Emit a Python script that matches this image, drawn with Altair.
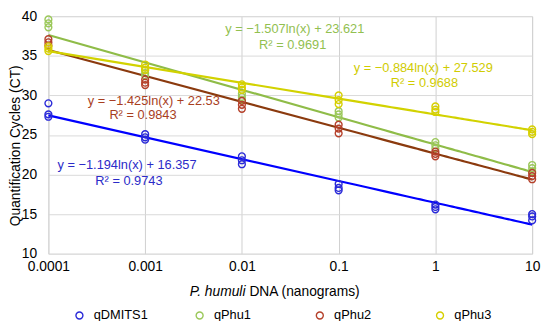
import altair as alt
import pandas as pd

# ---- data ----
doses = [0.0001, 0.001, 0.01, 0.1, 1, 10]
series_names = ["qDMITS1", "qPhu1", "qPhu2", "qPhu3"]

qDMITS1 = [[29.0, 27.6, 27.3], [25.1, 24.7, 24.4], [22.3, 21.8, 21.3],
           [18.8, 18.3, 18.0], [16.2, 15.9, 15.6], [15.0, 14.7, 14.2]]
qPhu1 = [[39.6, 39.1, 38.6], [33.2, 32.8, 32.5], [30.2, 29.8, 29.4],
         [28.0, 27.6, 27.2], [24.1, 23.7, 23.3], [21.2, 20.8, 20.4]]
qPhu2 = [[37.1, 36.7, 36.3], [32.0, 31.6, 31.3], [29.3, 28.8, 28.3],
         [26.3, 25.8, 25.2], [22.9, 22.6, 22.3], [20.2, 19.8, 19.4]]
qPhu3 = [[36.2, 35.9, 35.6], [33.9, 33.5, 33.2], [31.4, 31.0, 30.7],
         [30.0, 29.4, 28.9], [28.6, 28.2, 27.9], [25.7, 25.4, 25.1]]

eq_lines = ["y = −1.194ln(x) + 16.357", "R² = 0.9743",
            "y = −1.507ln(x) + 23.621", "R² = 0.9691",
            "y = −1.425ln(x) + 22.53", "R² = 0.9843",
            "y = −0.884ln(x) + 27.529", "R² = 0.9688"]
eq_series = ["qDMITS1", "qDMITS1", "qPhu1", "qPhu1",
             "qPhu2", "qPhu2", "qPhu3", "qPhu3"]

x_ticks = [0.0001, 0.001, 0.01, 0.1, 1, 10]
y_ticks = [10, 15, 20, 25, 30, 35, 40]

# annotation anchor positions (data units)
eq_x = [0.00065, 0.00068, 0.0352, 0.0335, 0.00123, 0.00095, 0.75, 0.77]
eq_y = [21.2, 19.2, 38.4, 36.4, 29.3, 27.5, 33.4, 31.5]

point_colors = ["#2a2ad8", "#9bc85a", "#b5402a", "#d6cf00"]
line_colors = ["#0000ff", "#8fbc48", "#8b3a0e", "#d2d200"]
text_colors = ["#2b2bc8", "#92c050", "#a83e1e", "#d0cc00"]

all_data = {"qDMITS1": qDMITS1, "qPhu1": qPhu1, "qPhu2": qPhu2, "qPhu3": qPhu3}
rows = []
for name in series_names:
    for d, reps in zip(doses, all_data[name]):
        for v in reps:
            rows.append({"x": d, "ct": v, "series": name})
df = pd.DataFrame(rows)

ann = pd.DataFrame({"text": eq_lines, "series": eq_series, "x": eq_x, "y": eq_y})

FONT = "Liberation Sans"

xscale = alt.Scale(type="log", domain=[0.0001, 10], nice=False)
yscale = alt.Scale(domain=[10, 40], nice=False, zero=False)

x_axis = alt.Axis(values=x_ticks, format="~g", title=None, grid=True,
                  gridColor="#cfcfcf", domain=False, ticks=False,
                  labelFont=FONT, labelFontSize=14, labelColor="#000000",
                  labelPadding=6, labelFlush=False, labelOverlap=False)
y_axis = alt.Axis(values=y_ticks, title="Quantification Cycles (CT)", grid=True,
                  gridColor="#d9d9d9", domain=False, ticks=False,
                  labelFont=FONT, labelFontSize=14, labelColor="#000000",
                  labelPadding=12, titleFont=FONT, titleFontSize=14,
                  titleFontWeight="normal", titleColor="#000000",
                  titleX=-33.5, titleY=131, titleAngle=-90, titleAlign="center",
                  titleBaseline="middle")

base = alt.Chart(df)

points = base.mark_point(filled=False, size=48, strokeWidth=1.4, opacity=1).encode(
    x=alt.X("x:Q", scale=xscale, axis=x_axis),
    y=alt.Y("ct:Q", scale=yscale, axis=y_axis),
    color=alt.Color("series:N", sort=series_names,
                    scale=alt.Scale(domain=series_names, range=point_colors),
                    legend=alt.Legend(title=None, orient="none", legendX=25, legendY=297,
                                      direction="horizontal", columns=4, gridAlign="all",
                                      columnPadding=46, symbolType="circle",
                                      symbolSize=50, symbolStrokeWidth=1.4,
                                      labelFont=FONT, labelFontSize=13,
                                      labelColor="#000000", labelOffset=8)),
)

lines = base.transform_regression(
    "x", "ct", method="log", groupby=["series"], extent=[0.0001, 10]
).mark_line(strokeWidth=2.2).encode(
    x=alt.X("x:Q", scale=xscale),
    y=alt.Y("ct:Q", scale=yscale),
    color=alt.Color("series:N", scale=alt.Scale(domain=series_names, range=line_colors),
                    legend=None),
)

labels = alt.Chart(ann).mark_text(font=FONT, fontSize=13, align="center",
                                  baseline="middle").encode(
    x=alt.X("x:Q", scale=xscale),
    y=alt.Y("y:Q", scale=yscale),
    text="text:N",
    color=alt.Color("series:N", scale=alt.Scale(domain=series_names, range=text_colors),
                    legend=None),
)

title_italic = alt.Chart(pd.DataFrame({"t": ["P. humuli"]})).mark_text(
    font=FONT, fontSize=14, fontStyle="italic", align="right", baseline="middle",
    color="#000000").encode(x=alt.value(200), y=alt.value(280), text="t:N")
title_rest = alt.Chart(pd.DataFrame({"t": ["DNA (nanograms)"]})).mark_text(
    font=FONT, fontSize=14, align="left", baseline="middle",
    color="#000000").encode(x=alt.value(204), y=alt.value(280), text="t:N")

chart = alt.layer(lines, points, labels, title_italic, title_rest).resolve_scale(
    color="independent"
).properties(
    width=491, height=241,
    autosize=alt.AutoSizeParams(type="none"),
    padding={"left": 41, "top": 6, "right": 10, "bottom": 66},
).configure_view(stroke=None).configure(background="#ffffff")

chart.save("out.html", embed_options={"renderer": "svg", "actions": False})
